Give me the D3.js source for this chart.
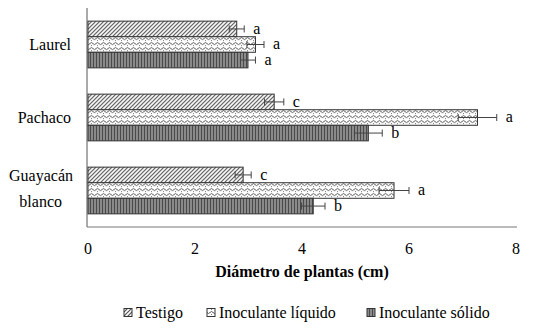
<html><head>
<meta charset="utf-8">
<title>Diámetro de plantas</title>
<style>
body { margin: 0; background: #fff; }
.serif { font-family: "Liberation Serif", "Times New Roman", serif; }
</style>
<script src="https://cdnjs.cloudflare.com/ajax/libs/d3/7.8.5/d3.min.js"></script>
</head>
<body>
<svg id="chart" width="535" height="330"></svg>
<script>
// data
const species = ["Laurel", "Pachaco", "Guayacán blanco"];
const treatments = ["Testigo", "Inoculante líquido", "Inoculante sólido"];
const means = [
  [2.78, 3.13, 2.99],
  [3.48, 7.28, 5.24],
  [2.90, 5.72, 4.21]
];
const errors = [
  [0.14, 0.16, 0.14],
  [0.18, 0.36, 0.26],
  [0.15, 0.28, 0.22]
];
const letters = [
  ["a", "a", "a"],
  ["c", "a", "b"],
  ["c", "a", "b"]
];
const xTicks = [0, 2, 4, 6, 8];

const svg = d3.select("#chart");
const mLeft = 88, mRight = 516, mTop = 8, mBottom = 227;

const x = d3.scaleLinear().domain([0, 8]).range([mLeft, mRight]);
const y0 = d3.scaleBand().domain(species).range([mTop, mBottom]).paddingInner(0.36).paddingOuter(0.18);
const y1 = d3.scaleBand().domain(treatments).range([0, y0.bandwidth()]);

// patterns
const defs = svg.append("defs");
const pTest = defs.append("pattern").attr("id", "p0").attr("patternUnits", "userSpaceOnUse")
  .attr("width", 4).attr("height", 4);
pTest.append("rect").attr("width", 4).attr("height", 4).attr("fill", "#fff");
pTest.append("path").attr("d", "M-1,1 L1,-1 M0,4 L4,0 M3,5 L5,3")
  .attr("stroke", "#555").attr("stroke-width", 1.2);

const pLiq = defs.append("pattern").attr("id", "p1").attr("patternUnits", "userSpaceOnUse")
  .attr("width", 6).attr("height", 5);
pLiq.append("rect").attr("width", 6).attr("height", 5).attr("fill", "#fff");
pLiq.append("path").attr("d", "M0,2.5 Q1.5,0.5 3,2.5 T6,2.5")
  .attr("stroke", "#555").attr("stroke-width", 1).attr("fill", "none");
pLiq.append("rect").attr("x", 1).attr("y", 4).attr("width", 1).attr("height", 1).attr("fill", "#777");

const pSol = defs.append("pattern").attr("id", "p2").attr("patternUnits", "userSpaceOnUse")
  .attr("width", 3).attr("height", 4);
pSol.append("rect").attr("width", 3).attr("height", 4).attr("fill", "#8a8a8a");
pSol.append("rect").attr("width", 1).attr("height", 4).attr("fill", "#4a4a4a");

const fills = ["url(#p0)", "url(#p1)", "url(#p2)"];

// axes lines
svg.append("line").attr("x1", mLeft - 1).attr("x2", mLeft - 1).attr("y1", mTop).attr("y2", mBottom)
  .attr("stroke", "#555").attr("stroke-width", 1);
svg.append("line").attr("x1", mLeft - 1).attr("x2", mRight + 1).attr("y1", mBottom).attr("y2", mBottom)
  .attr("stroke", "#777").attr("stroke-width", 1);

// bars
species.forEach((sp, i) => {
  const g = svg.append("g").attr("transform", `translate(0,${y0(sp)})`);
  treatments.forEach((t, j) => {
    const v = means[i][j], e = errors[i][j];
    const yy = y1(t), h = y1.bandwidth(), cy = yy + h / 2;
    g.append("rect")
      .attr("x", x(0)).attr("y", yy)
      .attr("width", x(v) - x(0)).attr("height", h)
      .attr("fill", fills[j]).attr("stroke", "#333").attr("stroke-width", 1);
    g.append("line").attr("x1", x(v - e)).attr("x2", x(v + e)).attr("y1", cy).attr("y2", cy)
      .attr("stroke", "#444").attr("stroke-width", 1);
    [v - e, v + e].forEach(d => {
      g.append("line").attr("x1", x(d)).attr("x2", x(d)).attr("y1", cy - 3.5).attr("y2", cy + 3.5)
        .attr("stroke", "#444").attr("stroke-width", 1);
    });
    g.append("text").attr("class", "serif").attr("x", x(v + e) + 9).attr("y", cy + 5)
      .attr("font-size", 16).text(letters[i][j]);
  });
});

// category labels
species.forEach(sp => {
  const cy = y0(sp) + y0.bandwidth() / 2;
  const t = svg.append("text").attr("class", "serif").attr("text-anchor", "end").attr("font-size", 16);
  if (sp === "Guayacán blanco") {
    t.append("tspan").attr("x", 73).attr("y", cy - 10).text("Guayacán");
    t.append("tspan").attr("x", 62).attr("y", cy + 16).text("blanco");
  } else {
    t.attr("x", 71).attr("y", cy + 5).text(sp);
  }
});

// x tick labels
svg.selectAll(".tick").data(xTicks).join("text").attr("class", "serif")
  .attr("x", d => x(d)).attr("y", 254)
  .attr("text-anchor", "middle").attr("font-size", 16).text(d => d);

// x axis title
svg.append("text").attr("class", "serif").attr("x", (mLeft + mRight) / 2).attr("y", 277)
  .attr("text-anchor", "middle").attr("font-size", 16).attr("font-weight", "bold")
  .text("Diámetro de plantas (cm)");

// legend
const legX = [124, 207, 367];
treatments.forEach((t, j) => {
  svg.append("rect").attr("x", legX[j]).attr("y", 308.5).attr("width", 8).attr("height", 8)
    .attr("fill", fills[j]).attr("stroke", "#333").attr("stroke-width", 1);
  svg.append("text").attr("class", "serif").attr("x", legX[j] + 12).attr("y", 318)
    .attr("font-size", 16).text(t);
});
</script>
</body>
</html>
